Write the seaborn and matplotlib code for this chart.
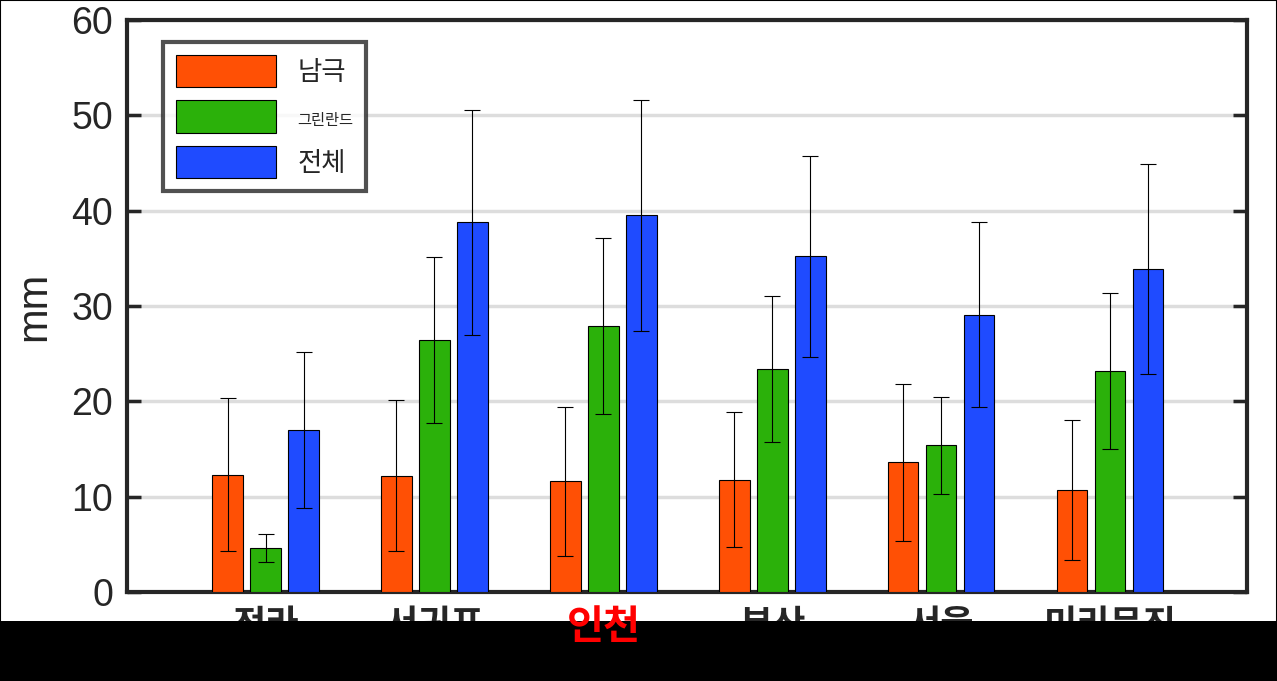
import numpy as np
import pandas as pd
import seaborn as sns
import matplotlib.pyplot as plt
from matplotlib.patches import Rectangle

sites = ["전라", "서귀포", "인천", "부산", "서울", "미리문진"]
series = ["남극", "그린란드", "전체"]
mean_ant = [12.3, 12.2, 11.6, 11.8, 13.6, 10.7]
err_ant = [8.0, 7.9, 7.8, 7.1, 8.2, 7.3]
mean_grn = [4.6, 26.4, 27.9, 23.4, 15.4, 23.2]
err_grn = [1.5, 8.7, 9.2, 7.7, 5.1, 8.2]
mean_all = [17.0, 38.8, 39.5, 35.2, 29.1, 33.9]
err_all = [8.2, 11.8, 12.1, 10.5, 9.7, 11.0]
colors = ["#FF5005", "#2BB10A", "#1F4BFF"]

sns.set_theme(style="white")
plt.rcParams["font.family"] = ["Liberation Sans", "Noto Sans CJK KR", "DejaVu Sans"]

df = pd.DataFrame({
    "site": sites * 3,
    "series": [s for s in series for _ in sites],
    "mm": mean_ant + mean_grn + mean_all,
})

fig = plt.figure(figsize=(12.77, 6.81), dpi=100)
ax = fig.add_axes([127 / 1277, 89 / 681, 1120 / 1277, 572 / 681])
sns.barplot(data=df, x="site", y="mm", hue="series", palette=colors,
            saturation=1, width=0.675, gap=0.2, edgecolor="black", linewidth=0.8,
            errorbar=None, ax=ax, zorder=3)

step = 0.225
for k, (m, e) in enumerate([(mean_ant, err_ant), (mean_grn, err_grn), (mean_all, err_all)]):
    x = np.arange(len(sites)) + (k - 1) * step
    ax.errorbar(x, m, yerr=e, fmt="none", ecolor="black", elinewidth=0.8,
                capsize=6, capthick=0.8, zorder=4)

ax.set_xlim(-0.82, 5.81)
ax.set_ylim(0, 60)
ax.set_yticks(range(0, 61, 10))
ax.yaxis.grid(True, color="#dddddd", linewidth=2.5, zorder=0)
ax.set_axisbelow(True)
ax.set_xlabel("")
ax.set_ylabel("mm", fontsize=30, labelpad=12)
ax.tick_params(axis="y", labelsize=27, direction="in", length=10, width=2.5,
               left=True, right=True, pad=10, labelcolor="#262626")
ax.tick_params(axis="x", labelsize=26, length=0, pad=12)
for lbl in ax.get_xticklabels():
    lbl.set_fontweight("bold")
    if lbl.get_text() == "인천":
        lbl.set_visible(False)
        # red label sits on top of the black band
        fig.text(2, -0.03, "인천", transform=ax.get_xaxis_transform(),
                 ha="center", va="top", fontsize=29, fontweight="bold", color="red",
                 zorder=5)
for sp in ax.spines.values():
    sp.set_linewidth(3)
    sp.set_color("#262626")

leg = ax.legend(loc="upper left", fontsize=19, frameon=True, fancybox=False,
                edgecolor="#262626", handlelength=3.8, handleheight=1.5,
                borderpad=0.5, labelspacing=0.5, bbox_to_anchor=(0.02, 0.985))
leg.get_frame().set_linewidth(3)
leg.get_texts()[1].set_fontsize(11)

# black band at the bottom, as in the reference
fig.add_artist(Rectangle((0, 0), 1, 60 / 681, transform=fig.transFigure,
                         facecolor="black", edgecolor="none", zorder=1))
fig.add_artist(Rectangle((0, 0), 1, 1, transform=fig.transFigure,
                         facecolor="none", edgecolor="black", linewidth=1.5, zorder=1))

fig.savefig("out.png", dpi=100)
